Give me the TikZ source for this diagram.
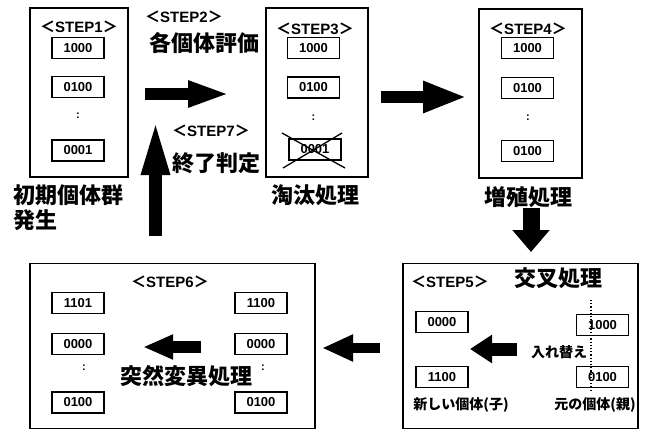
\documentclass[tikz,border=0pt]{standalone}
\usepackage{fontspec}
\setmainfont{Liberation Sans}
\newfontfamily\jp{Noto Sans CJK JP}
\usetikzlibrary{arrows.meta}
\tikzset{
  bigbox/.style={draw, line width=1.6pt, inner sep=0pt},
  cell/.style={draw, fill=white, line width=1.6pt, minimum width=52pt, minimum height=21pt, inner sep=0pt, font=\bfseries\fontsize{13}{13}\selectfont},
  steplbl/.style={inner sep=0pt, font=\bfseries\fontsize{15}{15}\selectfont},
  jbig/.style={inner sep=0pt, font=\jp\bfseries\fontsize{22}{22}\selectfont},
  jsmall/.style={inner sep=0pt, font=\jp\bfseries\fontsize{14}{14}\selectfont},
  dots/.style={inner sep=0pt, font=\bfseries\fontsize{11}{11}\selectfont},
}
\newcommand{\stp}[1]{{\jp ＜}STEP#1{\jp ＞}}
\begin{document}
\begin{tikzpicture}[x=1pt,y=-1pt]
\useasboundingbox[fill=white] (0,0) rectangle (651,431);

% big boxes
\node[bigbox, minimum width=98pt, minimum height=169pt] (b1) at (79,92.5) {};
\node[bigbox, minimum width=102pt, minimum height=169pt] (b3) at (317,92.5) {};
\node[bigbox, minimum width=103pt, minimum height=169pt] (b4) at (530.5,93.5) {};
\node[bigbox, minimum width=235pt, minimum height=165pt] (b5) at (520.5,346) {};
\node[bigbox, minimum width=285pt, minimum height=165pt] (b6) at (172.5,346) {};

% STEP1
\node[steplbl] (s1) at (79,27) {\stp{1}};
\node[cell] (c1a) at (78,48) {1000};
\node[cell] (c1b) at (78,87) {0100};
\node[dots] (d1) at (78,116) {:};
\node[cell] (c1c) at (78,150.5) {0001};
\node[jbig, anchor=west] (l1a) at (13,195) {初期個体群};
\node[jbig, anchor=west] (l1b) at (13,220) {発生};

% STEP2 / STEP7
\node[steplbl] (s2) at (184,17) {\stp{2}};
\node[jbig] (l2) at (204,43) {各個体評価};
\node[steplbl] (s7) at (211,131) {\stp{7}};
\node[jbig] (l7) at (216,163) {終了判定};

% STEP3
\node[steplbl] (s3) at (315,29) {\stp{3}};
\node[cell] (c3a) at (313.5,48) {1000};
\node[cell] (c3b) at (313.5,87.5) {0100};
\node[dots] (d3) at (313.5,118) {:};
\node[cell] (c3c) at (315,149.5) {0001};
\coordinate (x1a) at (282,133);
\coordinate (x1b) at (345,168);
\coordinate (x2a) at (342,133);
\coordinate (x2b) at (283,168);
\draw[line width=1.3pt] (x1a) -- (x1b);
\draw[line width=1.3pt] (x2a) -- (x2b);
\node[jbig] (l3) at (315,195) {淘汰処理};

% STEP4
\node[steplbl] (s4) at (528,29) {\stp{4}};
\node[cell] (c4a) at (527.5,48) {1000};
\node[cell] (c4b) at (527.5,88) {0100};
\node[dots] (d4) at (528,118) {:};
\node[cell] (c4c) at (527.5,151) {0100};
\node[jbig] (l4) at (528,197) {増殖処理};

% STEP5
\node[steplbl] (s5) at (450,282) {\stp{5}};
\node[jbig] (l5) at (558,278) {交叉処理};
\node[cell] (c5a) at (442,322) {0000};
\node[cell] (c5b) at (442,377) {1100};
\node[cell] (c5c) at (602.5,325) {1000};
\node[cell] (c5d) at (602.5,377) {0100};
\coordinate (dl1) at (591,300);
\coordinate (dl2) at (591,391);
\draw[line width=1.2pt, dotted] (dl1) -- (dl2);
\node[jsmall] (l5a) at (559,352) {入れ替え};
\node[jsmall] (l5b) at (461,405) {新しい個体(子)};
\node[jsmall] (l5c) at (595,405) {元の個体(親)};

% STEP6
\node[steplbl] (s6) at (170,282) {\stp{6}};
\node[cell] (c6a) at (78,303) {1101};
\node[cell] (c6b) at (78,344) {0000};
\node[dots] (d6a) at (84,368) {:};
\node[cell] (c6c) at (78,402.5) {0100};
\node[cell] (c6d) at (261,303) {1100};
\node[cell] (c6e) at (261,344) {0000};
\node[dots] (d6b) at (263,368) {:};
\node[cell] (c6f) at (261,402.5) {0100};
\node[jbig] (l6) at (186,376) {突然変異処理};

% arrows
\coordinate (a1s) at (145,94);   \coordinate (a1e) at (230,94);
\coordinate (a2s) at (381,97);   \coordinate (a2e) at (467,97);
\coordinate (a3s) at (155.5,236);\coordinate (a3e) at (155.5,117);
\coordinate (a4s) at (531,208);  \coordinate (a4e) at (531,252);
\coordinate (a5s) at (380,348);  \coordinate (a5e) at (322,348);
\coordinate (a6s) at (201,347);  \coordinate (a6e) at (143,347);
\coordinate (a7s) at (517,349);  \coordinate (a7e) at (470,349);
\draw[line width=12pt, -{Triangle[length=42pt,width=24pt]}] (a1s) -- (a1e);
\draw[line width=12pt, -{Triangle[length=44pt,width=29pt]}] (a2s) -- (a2e);
\draw[line width=13pt, -{Triangle[length=58pt,width=25pt]}] (a3s) -- (a3e);
\draw[line width=17pt, -{Triangle[length=22pt,width=36pt]}] (a4s) -- (a4e);
\draw[line width=10pt, -{Triangle[length=31pt,width=25pt]}] (a5s) -- (a5e);
\draw[line width=12pt, -{Triangle[length=30pt,width=23pt]}] (a6s) -- (a6e);
\draw[line width=13pt, -{Triangle[length=22pt,width=27pt]}] (a7s) -- (a7e);
\end{tikzpicture}
\end{document}
